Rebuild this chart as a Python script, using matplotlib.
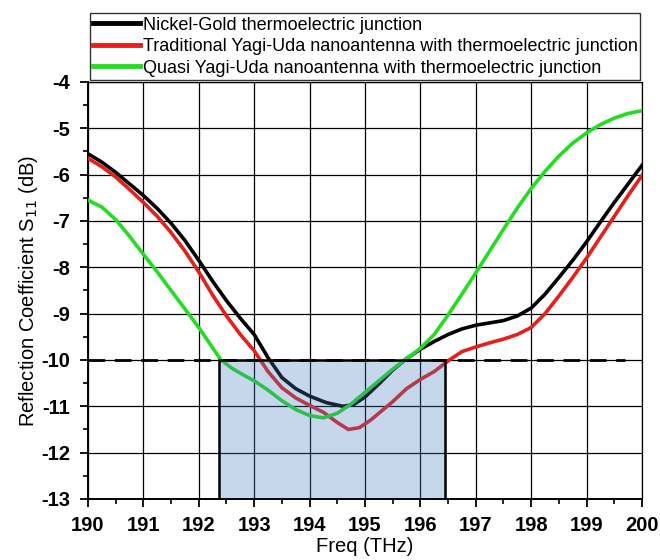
import matplotlib
matplotlib.use('Agg')
import matplotlib.pyplot as plt
from matplotlib.patches import Rectangle
from matplotlib.ticker import MultipleLocator

plt.rcParams['font.family'] = ['Liberation Sans', 'DejaVu Sans']
plt.rcParams['axes.unicode_minus'] = False

# Nickel-Gold thermoelectric junction
f_ng = [190, 190.25, 190.5, 190.75, 191, 191.25, 191.5, 191.75, 192, 192.25, 192.5, 192.75, 193,
        193.25, 193.5, 193.75, 194, 194.3, 194.6, 194.8, 195, 195.25, 195.5, 195.75, 196, 196.25,
        196.5, 196.75, 197, 197.25, 197.5, 197.75, 198, 198.25, 198.5, 198.75, 199, 199.25, 199.5,
        199.75, 200]
s_ng = [-5.55, -5.73, -5.95, -6.2, -6.45, -6.73, -7.05, -7.42, -7.85, -8.3, -8.72, -9.1, -9.45,
        -9.95, -10.38, -10.62, -10.78, -10.92, -11.0, -10.96, -10.8, -10.52, -10.22, -9.97, -9.77, -9.6,
        -9.45, -9.33, -9.25, -9.2, -9.15, -9.05, -8.88, -8.58, -8.22, -7.85, -7.45, -7.02, -6.6,
        -6.2, -5.8]

# Traditional Yagi-Uda
f_ty = [190, 190.25, 190.5, 190.75, 191, 191.25, 191.5, 191.75, 192, 192.25, 192.5, 192.75, 193,
        193.25, 193.5, 193.75, 194, 194.25, 194.5, 194.7, 194.9, 195.1, 195.3, 195.5, 195.75, 196,
        196.25, 196.5, 196.75, 197, 197.25, 197.5, 197.75, 198, 198.25, 198.5, 198.75, 199, 199.25,
        199.5, 199.75, 200]
s_ty = [-5.65, -5.83, -6.05, -6.32, -6.6, -6.9, -7.25, -7.65, -8.1, -8.6, -9.05, -9.45, -9.8,
        -10.25, -10.6, -10.82, -10.98, -11.13, -11.35, -11.5, -11.46, -11.3, -11.1, -10.9, -10.62, -10.42,
        -10.25, -10.02, -9.82, -9.72, -9.63, -9.55, -9.45, -9.3, -9.0, -8.62, -8.22, -7.8, -7.35,
        -6.9, -6.45, -6.02]

# Quasi Yagi-Uda
f_qy = [190, 190.25, 190.5, 190.75, 191, 191.25, 191.5, 191.75, 192, 192.2, 192.4, 192.6, 192.8,
        193, 193.25, 193.5, 193.75, 194, 194.25, 194.5, 194.75, 195, 195.25, 195.5, 195.75, 196,
        196.25, 196.5, 196.75, 197, 197.25, 197.5, 197.75, 198, 198.25, 198.5, 198.75, 199, 199.25,
        199.5, 199.75, 200]
s_qy = [-6.55, -6.7, -6.97, -7.33, -7.72, -8.1, -8.5, -8.9, -9.3, -9.65, -10.0, -10.18, -10.32,
        -10.45, -10.65, -10.88, -11.07, -11.2, -11.25, -11.15, -10.95, -10.7, -10.45, -10.2, -9.97, -9.75,
        -9.45, -9.03, -8.58, -8.12, -7.65, -7.18, -6.72, -6.3, -5.93, -5.6, -5.32, -5.1, -4.92,
        -4.78, -4.68, -4.62]

labels = ['Nickel-Gold thermoelectric junction',
          'Traditional Yagi-Uda nanoantenna with thermoelectric junction',
          'Quasi Yagi-Uda nanoantenna with thermoelectric junction']

threshold = -10
band = [192.37, 196.45]   # bandwidth below -10 dB
dash_end = 199.7

fig = plt.figure(figsize=(6.6, 5.6), dpi=100)
ax = fig.add_axes([0.1333, 0.109, 0.8394, 0.7446])

ax.plot(f_ng, s_ng, color='black', lw=2.6, label=labels[0], zorder=3)
ax.plot(f_ty, s_ty, color='#e3201b', lw=2.6, label=labels[1], zorder=3)
ax.plot(f_qy, s_qy, color='#22dd22', lw=2.6, label=labels[2], zorder=3)

ax.hlines(threshold, 190, dash_end, colors='black', lw=2, linestyles=(0, (6, 3.5)), zorder=2)

ax.add_patch(Rectangle((band[0], -13), band[1] - band[0], threshold + 13,
                       facecolor=(0.28, 0.49, 0.75, 0.3), edgecolor='black', lw=1.8, zorder=4))

ax.set_xlim(190, 200)
ax.set_ylim(-13, -4)
ax.xaxis.set_major_locator(MultipleLocator(1))
ax.xaxis.set_minor_locator(MultipleLocator(0.5))
ax.yaxis.set_major_locator(MultipleLocator(1))
ax.yaxis.set_minor_locator(MultipleLocator(0.5))
ax.grid(True, which='major', color='black', lw=0.9)
ax.set_axisbelow(True)

for s in ['top', 'right']:
    ax.spines[s].set_linewidth(0.9)
for s in ['left', 'bottom']:
    ax.spines[s].set_linewidth(1.4)

ax.tick_params(which='major', direction='out', length=6, width=1.3, labelsize=14.5, pad=6)
ax.tick_params(axis='y', which='major', pad=7)
ax.tick_params(which='minor', direction='out', length=3.5, width=1.2)
for t in ax.get_xticklabels() + ax.get_yticklabels():
    t.set_fontweight('bold')

ax.set_xlabel('Freq (THz)', fontsize=14.5, labelpad=2)
ax.set_ylabel('Reflection Coefficient S$_{11}$ (dB)', fontsize=14.5, labelpad=1)

leg = ax.legend(loc='lower left', bbox_to_anchor=(0, 1.0, 1.0, 0.1), mode='expand',
                fontsize=13, frameon=True, fancybox=False, borderaxespad=0.1,
                handlelength=2.6, handletextpad=0.15, borderpad=0.2, labelspacing=0.25)
leg.get_frame().set_edgecolor('black')
leg.get_frame().set_linewidth(1.0)
for line in leg.get_lines():
    line.set_linewidth(3.5)

fig.savefig('out.png', dpi=100)
